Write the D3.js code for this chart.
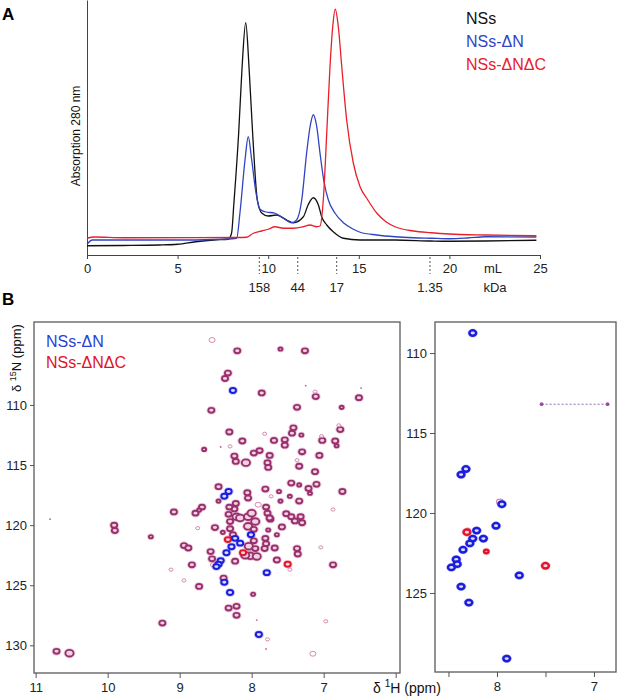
<!DOCTYPE html>
<html><head><meta charset="utf-8">
<script src="https://cdn.jsdelivr.net/npm/d3@7"></script>
<style>
body{margin:0;background:#fff;}
svg{display:block;font-family:"Liberation Sans",Arial,Helvetica,sans-serif;}
</style></head><body>
<svg id="c" width="617" height="697"></svg>
<script>
// ---------- Panel A data: elution volume (mL) vs absorption (arb. units) ----------
const seriesNames = ["NSs", "NSs-ΔN", "NSs-ΔNΔC"];
const elutionNSs = [[0,3.7],[2,3.8],[4,4.0],[5,4.3],[6,5.3],[7,6.0],[7.8,6.3],[7.98,8.8],[8.1,20],[8.37,48.8],[8.55,74],[8.76,92.9],[8.95,74],[9.14,48.8],[9.4,22],[9.64,16.8],[10.0,15.6],[10.47,16],[11.02,14],[11.39,12.9],[11.94,15.3],[12.2,20],[12.49,22.9],[12.77,20],[12.95,15.3],[13.23,12],[13.59,9.3],[14.15,6.7],[15.07,6],[17,6],[19,5.6],[20,5.5],[22,5.6],[24.8,5.9]];
const elutionDN = [[0,4.3],[0.3,6.0],[3,6.0],[5,6.0],[7,6.2],[8.26,6.7],[8.44,16.8],[8.72,38],[8.9,47.3],[9.09,38],[9.33,24.7],[9.55,18.3],[9.82,17.3],[10.38,16.7],[10.83,14.7],[11.3,12.9],[11.57,14],[11.85,22],[12.12,40.7],[12.31,51.3],[12.49,56.1],[12.68,51.3],[12.86,40.7],[13.08,29.3],[13.32,22],[13.69,16.7],[14.15,12.9],[14.7,10.3],[15.07,9.1],[16,8],[17,7.3],[18,6.9],[19,6.7],[20,6.5],[21,6.8],[22,7.3],[24.8,7.2]];
const elutionDNDC = [[0,6.7],[0.4,7.2],[2,6.9],[8.26,7.0],[8.81,7.1],[9.18,8.7],[9.64,9.6],[10.0,10.3],[10.38,11.3],[10.83,10.7],[11.39,10.7],[11.94,11.3],[12.31,12],[12.68,11.3],[12.86,11.6],[13.04,22],[13.23,48.7],[13.41,75.3],[13.56,91.3],[13.7,98.3],[13.87,91.3],[14.06,75.3],[14.33,54],[14.7,36.7],[15.07,27.3],[15.5,22],[16,16.7],[16.5,13.3],[17,11.3],[18,9.6],[19,8.9],[20,8.4],[22,8],[24.8,7.7]];
const volumeTicks = [0,5,10,15,20,25];
const markerVolumes = [9.51, 11.63, 13.78, 18.93];
const markerLabels = ["158", "44", "17", "1.35"];

// ---------- Panel B data: HSQC peaks [1H ppm, 15N ppm, kind, level] ----------
// kind: o = both spectra overlaid, b = NSs-ΔN only, r = NSs-ΔNΔC only, f = weak, d = tiny
const hsqcOverlay = [
[8.55,104.6,'f',2],[8.20,105.5,'o',2],[7.60,105.35,'o',1],[7.26,105.5,'o',2],
[8.37,107.8,'o',2],[8.33,107.35,'o',2],[8.26,108.8,'b',2],[7.86,109.0,'o',2],
[7.25,108.4,'d',1],[7.11,109.3,'o',2],[7.12,108.9,'f',1],[6.51,109.4,'o',2],[6.48,108.6,'d',1],
[6.75,110.2,'o',1],[8.56,110.45,'o',2],[7.37,110.2,'o',2],
[8.31,112.25,'o',2],[7.82,112.4,'f',1],[7.44,112.35,'o',2],[7.42,111.9,'o',2],
[7.69,112.95,'o',2],[7.54,112.9,'o',2],[7.54,113.35,'o',2],[7.31,112.5,'o',1],
[7.02,112.95,'o',2],[7.03,112.6,'f',1],[6.84,113.0,'o',2],[6.82,113.4,'o',1],[6.77,112.05,'o',2],[6.79,111.7,'f',1],
[8.13,113.0,'o',2],[8.66,113.7,'o',1],[8.30,113.45,'f',1],[8.43,113.5,'d',1],
[8.24,114.25,'o',2],[8.22,114.7,'o',2],[7.89,113.8,'o',2],[7.97,114.0,'o',2],[8.08,114.8,'o',3],
[7.75,114.2,'o',2],[7.78,114.8,'o',2],[7.77,115.2,'o',2],[7.37,114.6,'f',1],[7.34,115.1,'o',2],[7.30,113.9,'o',2],
[7.06,114.2,'o',2],[7.12,115.55,'o',2],
[8.46,116.8,'o',2],[8.32,117.2,'b',2],[8.38,117.6,'b',2],[8.46,118.0,'o',1],
[8.06,117.3,'o',2],[8.05,117.75,'o',2],[7.81,117.0,'o',2],[7.62,117.2,'o',1],[7.45,116.5,'o',2],[7.34,116.65,'o',1],
[7.10,116.6,'o',2],[7.21,116.95,'o',2],[7.19,117.35,'o',1],[6.74,117.2,'o',2],[7.47,117.6,'o',1],[7.34,118.0,'o',2],
[7.60,118.0,'o',1],[7.73,117.6,'f',1],[6.87,118.7,'f',1],
[8.69,118.5,'o',2],[8.78,119.0,'o',2],[8.73,118.75,'o',1],[9.08,118.9,'o',2],[8.75,120.25,'f',1],[8.51,120.2,'o',2],
[9.91,120.0,'o',2],[9.90,120.45,'o',2],[9.40,120.96,'o',1],[10.80,119.5,'d',1],
[8.22,118.2,'o',2],[8.24,118.65,'o',2],[8.21,119.3,'o',3],[8.31,118.5,'o',2],[8.32,119.1,'o',2],[8.30,119.7,'o',2],
[7.91,118.3,'f',2],[7.80,118.5,'o',2],[7.78,119.0,'o',2],[7.74,119.5,'o',2],[7.75,119.4,'o',2],
[7.52,119.05,'o',2],[7.45,119.3,'o',2],[7.40,119.65,'o',2],[7.32,119.3,'o',2],[7.30,119.8,'o',2],
[8.16,119.4,'o',3],[8.05,119.3,'o',3],[8.00,119.0,'o',3],[7.95,119.7,'o',3],[8.05,120.1,'o',3],[7.97,120.35,'o',2],
[8.30,120.3,'o',2],[8.26,120.8,'o',2],[8.40,120.6,'o',1],
[7.81,121.1,'o',2],[7.80,121.55,'o',2],[7.82,121.95,'o',2],[7.68,121.9,'o',2],
[7.58,120.15,'o',2],[7.65,120.8,'o',1],[7.77,120.4,'o',1],
[8.04,121.75,'o',3],[8.02,122.55,'o',3],[7.95,121.95,'o',2],[7.97,121.3,'o',2],[7.93,122.6,'o',3],[8.09,122.5,'o',3],
[8.57,122.2,'o',2],[8.55,122.8,'o',2],[8.53,123.3,'f',2],
[8.23,123.0,'o',2],[8.39,124.4,'o',2],
[7.65,122.9,'o',2],[7.47,123.7,'f',1],
[7.37,121.95,'o',2],[7.36,122.4,'o',2],[7.04,121.85,'f',1],[6.87,123.3,'o',2],
[8.94,121.7,'o',2],[8.88,121.9,'o',2],[8.83,123.3,'o',2],[9.12,123.7,'f',1],[8.94,124.6,'f',1],[8.73,125.1,'o',2],
[7.98,125.75,'o',1],[8.32,126.9,'o',2],[8.21,126.75,'o',2],[8.21,127.5,'o',2],
[9.24,128.15,'o',2],[6.97,128.0,'f',1],[7.78,129.5,'f',1],[7.80,130.3,'d',1],[7.93,127.9,'d',1],
[7.15,130.7,'f',2],[10.71,130.5,'o',2],[10.53,130.65,'o',3],
[8.33,121.2,'r',2],[8.23,121.1,'b',2],[8.16,121.5,'b',2],[8.01,120.8,'b',2],[8.28,121.8,'b',2],[8.35,122.3,'b',2],
[8.12,122.3,'r',2],[8.43,122.95,'b',2],[8.46,123.25,'b',2],[8.49,123.45,'b',2],[8.38,124.75,'b',2],
[7.79,123.95,'b',2],[7.50,123.25,'r',2],[8.30,125.6,'b',2],[7.90,129.1,'b',2]
];
// zoomed difference panel
const hsqcZoom = [
[7.97,119.3,'f',2],[8.30,121.05,'f',1],
[8.25,108.75,'b',2],[8.32,117.25,'b',2],[8.37,117.6,'b',2],[7.95,119.45,'b',2],[8.01,120.8,'b',2],
[8.31,121.2,'r',2],[8.21,121.1,'b',2],[8.25,121.6,'b',2],[8.14,121.6,'b',2],[8.28,121.9,'b',2],
[8.11,122.4,'r',1],[8.35,122.3,'b',2],[8.42,122.9,'b',2],[8.41,123.2,'b',2],[8.47,123.4,'b',2],
[7.50,123.3,'r',2],[7.77,123.9,'b',2],[8.37,124.6,'b',2],[8.29,125.6,'b',2],[7.90,129.1,'b',2]
];
const sidechainPair = [[7.54,113.2],[6.86,113.2]];
const hTicksLeft = [11,10,9,8,7,6];
const nTicksLeft = [110,115,120,125,130];
const hTicksRight = [8.5,8,7.5,7];
const nTicksRight = [110,115,120,125];

// ---------- drawing ----------
const svg = d3.select('#c');
const colA = {"NSs":"#111111","NSs-ΔN":"#2f43c4","NSs-ΔNΔC":"#e8202a"};
const axisCol = "#444";

svg.append('text').attr('x',2).attr('y',20).attr('font-size',17).attr('font-weight','bold').text('A');
svg.append('text').attr('x',2).attr('y',305).attr('font-size',17).attr('font-weight','bold').text('B');

const xA = d3.scaleLinear().domain([0,25]).range([87,540]);
const yA = d3.scaleLinear().domain([0,102]).range([255,0]);

const axA = svg.append('g').attr('transform','translate(0,255)')
  .call(d3.axisBottom(xA).tickValues(volumeTicks).tickSize(4).tickSizeOuter(0).tickPadding(5));
axA.selectAll('path,line').attr('stroke',axisCol);
axA.selectAll('text').attr('font-size',13).attr('fill','#222').attr('font-family','"Liberation Sans",Arial,sans-serif');
const ayA = svg.append('g').attr('transform','translate(87,0)')
  .call(d3.axisLeft(yA).tickValues([]).tickSizeOuter(0));
ayA.selectAll('path').attr('stroke',axisCol);

svg.append('text').attr('transform','translate(80,136) rotate(-90)').attr('text-anchor','middle')
  .attr('font-size',12).attr('fill','#111').text('Absorption 280 nm');

markerVolumes.forEach((v,i)=>{
  svg.append('line').attr('x1',xA(v)).attr('x2',xA(v)).attr('y1',257).attr('y2',274)
    .attr('stroke','#555').attr('stroke-dasharray','2,2').attr('stroke-width',1);
  svg.append('text').attr('x',xA(v)).attr('y',292).attr('text-anchor','middle')
    .attr('font-size',13).attr('fill','#222').text(markerLabels[i]);
});
svg.append('text').attr('x',493).attr('y',273).attr('text-anchor','middle').attr('font-size',13).attr('fill','#222').text('mL');
svg.append('text').attr('x',495).attr('y',292).attr('text-anchor','middle').attr('font-size',13).attr('fill','#222').text('kDa');

const lineA = d3.line().x(d=>xA(d[0])).y(d=>yA(d[1])).curve(d3.curveMonotoneX);
[[elutionNSs,"NSs"],[elutionDN,"NSs-ΔN"],[elutionDNDC,"NSs-ΔNΔC"]].forEach(([data,name])=>{
  svg.append('path').datum(data).attr('d',lineA).attr('fill','none')
    .attr('stroke',colA[name]).attr('stroke-width',1.3);
});
seriesNames.forEach((n,i)=>{
  svg.append('text').attr('x',466).attr('y',24+i*23).attr('font-size',16).attr('fill',colA[n]).text(n);
});

// ---------- Panel B ----------
const xL = d3.scaleLinear().domain([11.023,5.94]).range([34,400]);
const yL = d3.scaleLinear().domain([103.1,132.3]).range([322,673]);
const xR = d3.scaleLinear().domain([8.639,6.773]).range([435,616]);
const yR = d3.scaleLinear().domain([108.06,129.94]).range([322,672]);

function frame(x0,y0,x1,y1){
  svg.append('rect').attr('x',x0).attr('y',y0).attr('width',x1-x0).attr('height',y1-y0)
    .attr('fill','none').attr('stroke','#666').attr('stroke-width',1.4);
}
function styleAxis(g){
  g.select('.domain').remove();
  g.selectAll('line').attr('stroke','#555');
  g.selectAll('text').attr('font-size',13).attr('fill','#222').attr('font-family','"Liberation Sans",Arial,sans-serif');
}

const levelR = d3.scaleLinear().domain([1,3]).range([2.0,4.1]);
const kindStyle = {
  o:{stroke:'#97306c', w:1.9, halo:'#e7b0cc', fill:'#f2d2e2'},
  b:{stroke:'#1c1cdc', w:2.0, halo:'#a6aaf2', fill:'#dcdcfa'},
  r:{stroke:'#e4142c', w:2.0, halo:'#f4a6b0', fill:'#fadadf'},
  f:{stroke:'#d48ab0', w:1.0, halo:null, fill:'none'},
  d:{stroke:'#c66088', w:0.8, halo:null, fill:'none'}
};

function drawPeaks(g, data, xs, ys, scaleK, wK){
  // halos first, then rings
  data.forEach(p=>{
    const [h,n,k,l] = p, st = kindStyle[k];
    if(!st.halo) return;
    const rx = levelR(l)*scaleK, ry = levelR(l)*0.8*scaleK;
    g.append('ellipse').attr('cx',xs(h)).attr('cy',ys(n)).attr('rx',rx+1.4).attr('ry',ry+1.3)
      .attr('fill','none').attr('stroke',st.halo).attr('stroke-width',0.8).attr('opacity',0.85);
  });
  data.forEach(p=>{
    const [h,n,k,l] = p, st = kindStyle[k];
    const cx = xs(h), cy = ys(n);
    if(k==='d'){
      g.append('circle').attr('cx',cx).attr('cy',cy).attr('r',0.9).attr('fill',st.stroke);
      return;
    }
    const rx = levelR(l)*scaleK, ry = levelR(l)*0.8*scaleK;
    g.append('ellipse').attr('cx',cx).attr('cy',cy).attr('rx',rx).attr('ry',ry)
      .attr('fill',st.fill).attr('stroke',st.stroke).attr('stroke-width',st.w*wK);
  });
}

const gL = svg.append('g');
drawPeaks(gL, hsqcOverlay, xL, yL, 1, 1);
frame(34,322,400,673);
const bxL = svg.append('g').attr('transform','translate(0,673)')
  .call(d3.axisBottom(xL).tickValues(hTicksLeft).tickSize(5).tickPadding(5).tickFormat(d=> d===6?'':d));
styleAxis(bxL);
const lyL = svg.append('g').attr('transform','translate(34,0)')
  .call(d3.axisLeft(yL).tickValues(nTicksLeft).tickSize(4).tickPadding(3));
styleAxis(lyL);

svg.append('text').attr('x',46).attr('y',347).attr('font-size',16).attr('fill','#2a3fd6').text('NSs-ΔN');
svg.append('text').attr('x',46).attr('y',368).attr('font-size',16).attr('fill','#dd1428').text('NSs-ΔNΔC');

const yt = svg.append('text').attr('transform','translate(21,392) rotate(-90)').attr('font-size',13).attr('fill','#111');
yt.append('tspan').text('δ ');
yt.append('tspan').attr('font-size',9).attr('dy',-5).text('15');
yt.append('tspan').attr('dy',5).text('N (ppm)');
const xt = svg.append('text').attr('x',373).attr('y',693).attr('font-size',14).attr('fill','#111');
xt.append('tspan').text('δ ');
xt.append('tspan').attr('font-size',10).attr('dy',-6).text('1');
xt.append('tspan').attr('dy',6).text('H (ppm)');

const gR = svg.append('g');
gR.append('line').attr('x1',xR(sidechainPair[0][0])).attr('x2',xR(sidechainPair[1][0]))
  .attr('y1',yR(sidechainPair[0][1])).attr('y2',yR(sidechainPair[1][1]))
  .attr('stroke','#8a6aa0').attr('stroke-width',1).attr('stroke-dasharray','2,2');
sidechainPair.forEach(p=>{
  gR.append('circle').attr('cx',xR(p[0])).attr('cy',yR(p[1])).attr('r',1.9).attr('fill','#9a4aa8');
});
drawPeaks(gR, hsqcZoom, xR, yR, 1.1, 1.25);
frame(435,322,616,672);
const bxR = svg.append('g').attr('transform','translate(0,672)')
  .call(d3.axisBottom(xR).tickValues(hTicksRight).tickSize(5).tickPadding(5).tickFormat(d=> Number.isInteger(d)?d:''));
styleAxis(bxR);
const lyR = svg.append('g').attr('transform','translate(435,0)')
  .call(d3.axisLeft(yR).tickValues(nTicksRight).tickSize(5).tickPadding(3));
styleAxis(lyR);
</script>
</body></html>
